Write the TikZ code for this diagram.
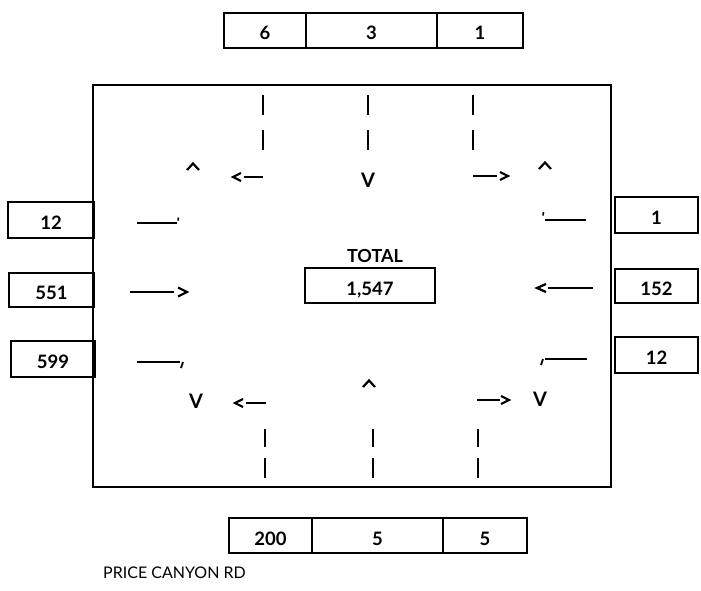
\documentclass[tikz,border=0pt]{standalone}
\usepackage{fontspec}
\setmainfont{Lato}
\begin{document}
\begin{tikzpicture}[x=1pt,y=-1pt,
  cell/.style={draw,line width=1.4pt,inner sep=0pt,text height=19pt,text depth=0pt,font=\fontsize{18.5}{20}\selectfont\bfseries},
  lbl/.style={inner sep=0pt,font=\fontsize{18}{20}\selectfont\bfseries},
  mk/.style={line width=2.2pt,line cap=butt},
  vee/.style={inner sep=0pt,font=\fontsize{20}{20}\selectfont\bfseries}]
\useasboundingbox (0,0) rectangle (701,591);
% main rectangle
\node[draw,line width=2pt,minimum width=518pt,minimum height=401pt,inner sep=0pt] (main) at (352,286) {};
% top approach
\node[cell,minimum width=82pt,minimum height=35pt] (t1) at (265,30.5) {6};
\node[cell,minimum width=131pt,minimum height=35pt] (t2) at (371.5,30.5) {3};
\node[cell,minimum width=86pt,minimum height=35pt] (t3) at (480,30.5) {1};
% bottom approach
\node[cell,minimum width=83pt,minimum height=35pt] (b1) at (270.5,535.5) {200};
\node[cell,minimum width=131pt,minimum height=35pt] (b2) at (377.5,535.5) {5};
\node[cell,minimum width=84pt,minimum height=35pt] (b3) at (485,535.5) {5};
% left approach
\node[cell,minimum width=86pt,minimum height=36pt] (l1) at (51,220) {12};
\node[cell,minimum width=85pt,minimum height=34pt] (l2) at (51.5,290) {551};
\node[cell,minimum width=84pt,minimum height=36pt] (l3) at (53,359) {599};
% right approach
\node[cell,minimum width=83pt,minimum height=36pt] (r1) at (656.5,215) {1};
\node[cell,minimum width=83pt,minimum height=34pt] (r2) at (656.5,286) {152};
\node[cell,minimum width=83pt,minimum height=36pt] (r3) at (656.5,355) {12};
% total
\node[lbl] (totlbl) at (375,256) {TOTAL};
\node[cell,minimum width=130pt,minimum height=35pt] (tot) at (370,285.5) {1,547};
% street name
\node[inner sep=0pt,anchor=west,font=\fontsize{16}{18}\selectfont] (street) at (103,573) {PRICE CANYON RD};
% ---- movement marks, top
\foreach \x in {263,368,473}{
  \draw[mk] (\x,95) -- (\x,115);
  \draw[mk] (\x,130) -- (\x,150);
}
\draw[mk] (187,170) -- (193,163.5) -- (199,170);
\draw[mk] (241,173) -- (233,177) -- (241,181);
\draw[mk] (244,177) -- (263,177);
\node[vee] (tv) at (368,180) {V};
\draw[mk] (473,176) -- (497,176);
\draw[mk] (500,172) -- (508,176) -- (500,180);
\draw[mk] (539,169) -- (545,162.5) -- (551,169);
% ---- left side
\draw[mk] (137,223) -- (177,223);
\draw[line width=1.6pt] (178.5,217.5) -- (178,220.5);
\draw[mk] (130,292) -- (174,292);
\draw[mk] (178,287.5) -- (187,292) -- (178,296.5);
\draw[mk] (137,362) -- (180,362);
\draw[line width=1.8pt] (183,362) -- (181,368);
% ---- right side
\draw[line width=1.6pt] (543.5,212) -- (543,215.5);
\draw[mk] (545,220) -- (586,220);
\draw[mk] (546,284) -- (537,288) -- (546,292);
\draw[mk] (548,288) -- (593,288);
\draw[line width=1.8pt] (543,359) -- (541,365);
\draw[mk] (545,359) -- (587,359);
% ---- bottom
\node[vee] (blv) at (196,401) {V};
\draw[mk] (243,399) -- (235,403) -- (243,407);
\draw[mk] (246,403) -- (266,403);
\draw[mk] (363,387) -- (369,380.5) -- (375,387);
\draw[mk] (477,400) -- (500,400);
\draw[mk] (501,396) -- (509,400) -- (501,404);
\node[vee] (brv) at (540,399) {V};
\foreach \x in {265,373,478}{
  \draw[mk] (\x,429) -- (\x,447);
  \draw[mk] (\x,458) -- (\x,478);
}
\end{tikzpicture}
\end{document}
